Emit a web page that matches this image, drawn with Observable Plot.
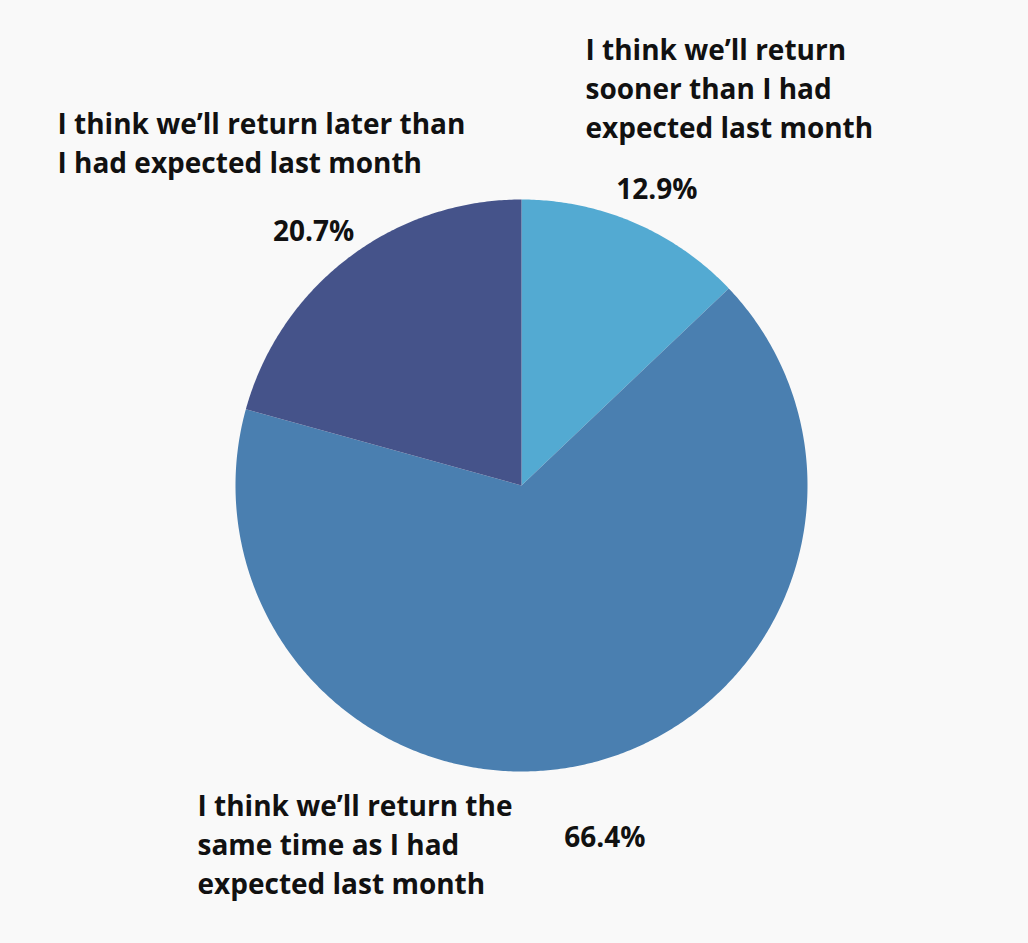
<!DOCTYPE html>
<html>
<head>
<meta charset="utf-8">
<script src="https://cdn.jsdelivr.net/npm/d3@7"></script>
<script src="https://cdn.jsdelivr.net/npm/@observablehq/plot@0.6"></script>
<style>
  html, body { margin: 0; padding: 0; background: #f9f9f9; }
  #chart { width: 1028px; height: 943px; }
</style>
</head>
<body>
<div id="chart"></div>
<script>
// ---- data ----
const categories = [
  "I think we’ll return sooner than I had expected last month",
  "I think we’ll return the same time as I had expected last month",
  "I think we’ll return later than I had expected last month"
];
const values = [12.9, 66.4, 20.7];
const labelLines = [
  "I think we’ll return\nsooner than I had\nexpected last month",
  "I think we’ll return the\nsame time as I had\nexpected last month",
  "I think we’ll return later than\nI had expected last month"
];
const colors = ["#53aad2", "#4a7fb0", "#45538a"];

// ---- layout (pixel geometry) ----
const W = 1028, H = 943;
const cx = 521, cy = 485, R = 286;
const catAnchors = [[585, 86], [197, 842], [57, 141]];
const pctRadius = 1.2, pctDy = 20;

// ---- compute slices ----
const pie = d3.pie().sort(null).value(d => d)(values);
const ring = [];
pie.forEach((s, i) => {
  const a0 = s.startAngle, a1 = s.endAngle;
  const n = Math.max(2, Math.ceil((a1 - a0) / (Math.PI / 360)));
  ring.push({cat: categories[i], x: 0, y: 0});
  for (let k = 0; k <= n; k++) {
    const a = a0 + (a1 - a0) * k / n;
    ring.push({cat: categories[i], x: Math.sin(a), y: Math.cos(a)});
  }
  ring.push({cat: categories[i], x: 0, y: 0});
});
const pct = pie.map((s, i) => {
  const m = (s.startAngle + s.endAngle) / 2;
  return {label: values[i].toFixed(1) + "%", x: Math.sin(m) * pctRadius, y: Math.cos(m) * pctRadius};
});
const cats = labelLines.map((t, i) => ({
  label: t,
  x: (catAnchors[i][0] - cx) / R,
  y: (cy - catAnchors[i][1]) / R
}));

const chart = Plot.plot({
  width: W,
  height: H,
  margin: 0,
  style: {background: "#f9f9f9", fontFamily: "'Open Sans', 'Noto Sans', sans-serif"},
  x: {domain: [-1, 1], range: [cx - R, cx + R], axis: null},
  y: {domain: [-1, 1], range: [cy + R, cy - R], axis: null},
  color: {domain: categories, range: colors},
  marks: [
    Plot.line(ring, {x: "x", y: "y", z: "cat", fill: "cat", stroke: "none", curve: "linear"}),
    Plot.text(pct, {x: "x", y: "y", dy: pctDy, text: "label", fontSize: 28, fontWeight: 700, fill: "#111"}),
    Plot.text(cats, {x: "x", y: "y", text: "label", fontSize: 28, fontWeight: 700, fill: "#111",
      textAnchor: "start", lineHeight: 39 / 28, lineAnchor: "middle"})
  ]
});
document.getElementById("chart").appendChild(chart);
</script>
</body>
</html>
